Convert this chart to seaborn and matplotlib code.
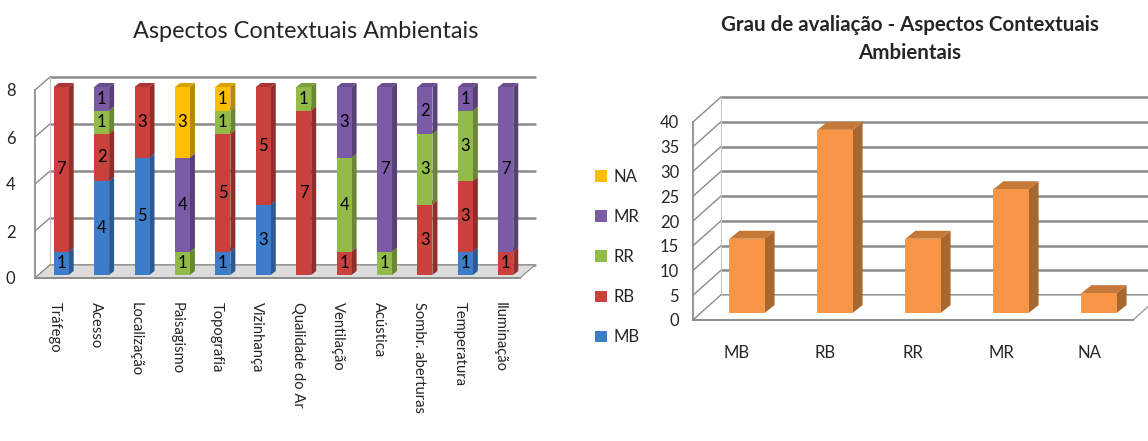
import matplotlib
matplotlib.use("Agg")
import matplotlib.pyplot as plt
import matplotlib.colors as mcolors
from matplotlib.transforms import offset_copy, IdentityTransform
from matplotlib.patches import Polygon
from matplotlib.lines import Line2D
import pandas as pd
import seaborn as sns

# --- data -------------------------------------------------------------
aspectos = ["Tráfego", "Acesso", "Localização", "Paisagismo", "Topografia",
            "Vizinhança", "Qualidade do Ar", "Ventilação", "Acústica",
            "Sombr. aberturas", "Temperatura", "Iluminação"]
graus = ["MB", "RB", "RR", "MR", "NA"]
mb = [1, 4, 5, 0, 1, 3, 0, 0, 0, 0, 1, 0]
rb = [7, 2, 3, 0, 5, 5, 7, 1, 0, 3, 3, 1]
rr = [0, 1, 0, 1, 1, 0, 1, 4, 1, 3, 3, 0]
mr = [0, 1, 0, 4, 0, 0, 0, 3, 7, 2, 1, 7]
na = [0, 0, 0, 3, 1, 0, 0, 0, 0, 0, 0, 0]
totais = [15, 37, 15, 25, 4]

cores = {"MB": "#3d7cc9", "RB": "#c9403d", "RR": "#93bb48",
         "MR": "#7b5aa6", "NA": "#fdbf00"}
laranja = "#f79646"
grade = "#8a8a8a"

sns.set_theme(style="white")
plt.rcParams["font.family"] = ["Lato", "DejaVu Sans"]

W, H = 1148, 441
fig = plt.figure(figsize=(W / 100, H / 100), dpi=100)
PIX = IdentityTransform()


def shade(c, f):
    r, g, b = mcolors.to_rgb(c)
    return (min(r * f, 1), min(g * f, 1), min(b * f, 1))


def frame3d(ax, yticks, dx, dy, floor_color, right_extend=0):
    """Back wall grid lines, floor and connecting diagonals (offsets in pixels)."""
    x0, x1 = ax.get_xlim()
    back = offset_copy(ax.transData, fig=fig, x=dx, y=dy, units="dots")
    for y in yticks:
        ax.add_line(Line2D([x0, x1 + right_extend], [y, y], transform=back,
                           color=grade, lw=1.8, clip_on=False, zorder=0.5))
        px, py = ax.transData.transform((x0, y))
        ax.add_line(Line2D([px, px + dx], [py, py + dy], transform=PIX,
                           color=grade, lw=1.0, clip_on=False, zorder=0.5))
    p0 = ax.transData.transform((x0, 0))
    p1 = ax.transData.transform((x1, 0))
    ax.add_patch(Polygon([p0, p1, p1 + (dx, dy), p0 + (dx, dy)], closed=True,
                         transform=PIX, facecolor=floor_color, edgecolor=grade,
                         lw=0.8, zorder=0.6, clip_on=False))
    top = ax.transData.transform((x0, yticks[-1]))
    ax.add_line(Line2D([p0[0] + dx, top[0] + dx], [p0[1] + dy, top[1] + dy],
                       transform=PIX, color="#c8c8c8", lw=0.8, clip_on=False,
                       zorder=0.5))


def extrude(ax, bars, shift, depth, side_f, top_f):
    """Move bars back by 'shift' pixels and add darker side and top faces."""
    front = offset_copy(ax.transData, fig=fig, x=shift[0], y=shift[1], units="dots")
    dx, dy = depth
    for p in bars:
        if p.get_height() <= 0:
            continue
        (x0, y0), (x1, y1) = front.transform(
            [(p.get_x(), p.get_y()), (p.get_x() + p.get_width(), p.get_y() + p.get_height())])
        fc = p.get_facecolor()
        ax.add_patch(Polygon([(x1, y0), (x1 + dx, y0 + dy), (x1 + dx, y1 + dy), (x1, y1)],
                             transform=PIX, facecolor=shade(fc, side_f),
                             edgecolor="none", zorder=1.5, clip_on=False))
        ax.add_patch(Polygon([(x0, y1), (x1, y1), (x1 + dx, y1 + dy), (x0 + dx, y1 + dy)],
                             transform=PIX, facecolor=shade(fc, top_f),
                             edgecolor="none", zorder=1.5, clip_on=False))
        p.set_transform(front)
        p.set_zorder(2)
        p.set_clip_on(False)
    return front


# --- left: stacked bars per aspect -----------------------------------
ax = fig.add_axes([35 / W, 1 - 278 / H, 485 / W, 188 / H])
series = {"MB": mb, "RB": rb, "RR": rr, "MR": mr, "NA": na}
rows = [(a, g, series[g][i]) for i, a in enumerate(aspectos) for g in graus]
df = pd.DataFrame(rows, columns=["aspecto", "grau", "n"])

sns.histplot(data=df, x="aspecto", hue="grau", weights="n", multiple="stack",
             discrete=True, shrink=0.37, hue_order=["NA", "MR", "RR", "RB", "MB"],
             palette=cores, alpha=1, linewidth=0, edgecolor="none", ax=ax)
barras = list(ax.patches)
ax.set_xlim(-0.5, len(aspectos) - 0.5)
ax.set_ylim(0, 8)
ax.set_xlabel("")
ax.set_ylabel("")
for s in ["top", "right"]:
    ax.spines[s].set_visible(False)
ax.spines["left"].set_color(grade)
ax.spines["bottom"].set_color(grade)
ax.set_yticks([0, 2, 4, 6, 8])
ax.set_xticks(range(len(aspectos)))
ax.set_xticklabels(aspectos, rotation=-90, ha="center", va="top")
ax.set_xticks([i - 0.5 for i in range(len(aspectos) + 1)], minor=True)
ax.tick_params(axis="x", which="major", length=0, pad=17, labelsize=10.6)
ax.tick_params(axis="x", which="minor", length=5, color=grade, direction="out")
ax.tick_params(axis="y", length=6, color=grade, direction="out", labelsize=12, pad=8)

fig.canvas.draw()
frame3d(ax, [0, 2, 4, 6, 8], 15, 13, "#dcdcdc")
front = extrude(ax, barras, (6, 3), (5, 4), 0.72, 0.85)

bottom = [0] * len(aspectos)
for g in graus:
    for i, v in enumerate(series[g]):
        if v > 0:
            ax.text(i, bottom[i] + v / 2, str(v), transform=front, ha="center",
                    va="center", fontsize=12, color="black", zorder=3)
        bottom[i] += v

sns.move_legend(ax, loc="center left", bbox_to_anchor=(580 / W, 1 - 257 / H),
                bbox_transform=fig.transFigure, frameon=False, title=None,
                fontsize=12, labelspacing=1.45, handlelength=0.7,
                handleheight=0.7, handletextpad=0.4)

fig.text(306 / W, 1 - 32 / H, "Aspectos Contextuais Ambientais",
         ha="center", va="center", fontsize=16.9)

# --- right: totals per grade ------------------------------------------
ax2 = fig.add_axes([693 / W, 1 - 320 / H, 440 / W, 198 / H])
sns.barplot(x=graus, y=totais, color=laranja, saturation=1, width=0.4,
            linewidth=0, edgecolor="none", ax=ax2)
barras2 = list(ax2.patches)
ax2.set_xlim(-0.5, len(graus) - 0.5)
ax2.set_ylim(0, 40)
for s in ["top", "right"]:
    ax2.spines[s].set_visible(False)
ax2.spines["left"].set_color(grade)
ax2.spines["bottom"].set_color(grade)
ax2.set_yticks(range(0, 41, 5))
ax2.set_xticks([i - 0.5 for i in range(len(graus) + 1)], minor=True)
ax2.tick_params(axis="x", which="major", length=0, pad=18, labelsize=12)
ax2.tick_params(axis="x", which="minor", length=6, color=grade, direction="out")
ax2.tick_params(axis="y", length=6, color=grade, direction="out", labelsize=12, pad=4)

fig.canvas.draw()
frame3d(ax2, list(range(0, 41, 5)), 28, 25, "white", right_extend=1)
extrude(ax2, barras2, (10, 7), (10, 8), 0.68, 0.8)

fig.text(910 / W, 1 - 39 / H, "Grau de avaliação - Aspectos Contextuais\nAmbientais",
         ha="center", va="center", fontsize=14.8, fontweight="bold", linespacing=1.45)

fig.savefig("out.png", dpi=100)
